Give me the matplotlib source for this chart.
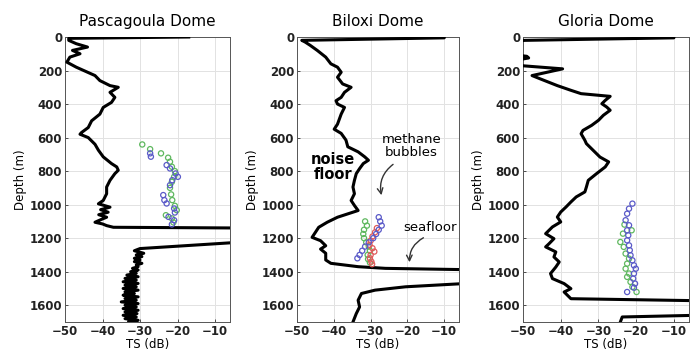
import numpy as np
import matplotlib
matplotlib.use('Agg')
import matplotlib.pyplot as plt

titles = ['Pascagoula Dome', 'Biloxi Dome', 'Gloria Dome']

# noise / echo profile (black line): depth (m) and TS (dB)
pas_depth = [0, 8, 20, 40, 60, 80, 100, 120, 150, 180, 200, 230, 260, 290, 300, 330, 360,
             390, 420, 460, 500, 540, 570, 580, 600, 640, 675, 715, 755, 775, 795, 815, 855,
             895, 935, 975, 995, 1015, 1030, 1045, 1060, 1075, 1090, 1105, 1115, 1125, 1135,
             1140, 1180, 1225, 1262, 1275, 1290, 1300, 1310, 1320, 1330, 1340, 1350, 1360,
             1370, 1380, 1390, 1400, 1410, 1420, 1430, 1440, 1450, 1460, 1470, 1480, 1490,
             1500, 1510, 1520, 1530, 1540, 1550, 1560, 1570, 1580, 1590, 1600, 1610, 1620,
             1630, 1640, 1650, 1660, 1670, 1680, 1690, 1700]
pas_ts = [-17, -49, -49, -47, -44, -48, -46, -48.7, -49.5, -47, -45, -42, -40.7, -38, -35.8,
          -38, -36.7, -37.6, -39.8, -40.7, -42.9, -43.8, -45.6, -46, -43.8, -42, -41.1, -39.8,
          -37.6, -36.2, -35.8, -36.7, -38, -38.9, -38.9, -39.8, -41.1, -38, -40.5, -38.5,
          -41, -38.9, -40.5, -42, -40, -38.9, -37.1, 2, 2, -4, -30, -31.5, -29, -31, -29.5,
          -31.5, -30, -31.5, -29.5, -31, -30.5, -32, -30.5, -32.5, -31, -33.5, -30.5, -34,
          -31, -34.5, -30.5, -34, -31, -34.5, -30.5, -34, -31.5, -34.5, -30.5, -34, -31,
          -35, -30.5, -34, -31, -34.5, -30.5, -34, -30.8, -34.5, -31, -34, -30.5, -33]

bil_depth = [0, 5, 20, 30, 50, 80, 120, 160, 180, 210, 240, 280, 300, 330, 360, 380, 400,
             420, 460, 490, 520, 550, 575, 615, 655, 685, 715, 735, 755, 785, 815, 855, 895,
             935, 975, 1005, 1035, 1055, 1075, 1105, 1135, 1165, 1195, 1215, 1245, 1265, 1290,
             1330, 1350, 1370, 1380, 1390, 1430, 1470, 1490, 1510, 1530, 1570, 1610, 1650, 1700]
bil_ts = [-10, -10, -48.7, -47.8, -46.4, -44.5, -42.2, -40.8, -39, -38, -39, -37.6, -35.3,
          -37.1, -38, -39.4, -39, -37.1, -38, -38.5, -39, -39.9, -38, -36.7, -36.2, -33.4,
          -31.6, -30.6, -32, -33, -33.9, -34.4, -34.8, -34.4, -35.3, -34.4, -33.4, -36.2, -39,
          -41.8, -44.1, -45, -45.9, -43.6, -42.2, -43.6, -42.2, -42.2, -40.8, -33.4, -26, 2, 2,
          -4, -20.5, -28.8, -32.5, -33.4, -33, -33.9, -34.8]

glo_depth = [0, 5, 20, 30, 100, 115, 125, 135, 170, 190, 230, 250, 290, 318, 338, 354, 378,
             398, 418, 437, 467, 497, 527, 557, 577, 616, 636, 676, 716, 745, 775, 815, 855,
             895, 924, 954, 984, 1014, 1044, 1074, 1103, 1133, 1173, 1203, 1233, 1252, 1282,
             1312, 1342, 1372, 1411, 1441, 1471, 1501, 1521, 1541, 1561, 1575, 1620, 1660,
             1670, 1700]
glo_ts = [-10, -10, -49.5, -55, -55, -49, -48.5, -51, -51, -39.5, -47.6, -45.4, -40.9, -37.3,
          -34.6, -26.9, -28.2, -29.1, -27.8, -26.9, -28.7, -30, -31.8, -34.1, -34.6, -33.6,
          -33.2, -31.4, -29.6, -27.3, -28.2, -30.5, -32.7, -33.2, -33.6, -35.9, -37.3, -38.6,
          -40, -40.9, -40, -42.2, -44, -41.8, -43.1, -44, -41.3, -41.8, -40.4, -41.3, -42.7,
          -42.2, -39.1, -37.3, -39.1, -38.2, -37.3, 2, 2, -4, -23.7, -24.2]

# bubble target strengths (circles)
pas_green_d = [641, 669, 694, 720, 744, 774, 800, 834, 864, 900, 939, 973, 1007, 1033, 1063,
               1082, 1106]
pas_green_ts = [-29.4, -27.3, -24.4, -22.5, -22, -21.5, -20.7, -20.9, -21.5, -22, -21.7,
                -21.4, -20.7, -20.2, -23.1, -21.5, -21.1]
pas_blue_d = [694, 714, 764, 784, 814, 834, 854, 884, 943, 973, 993, 1023, 1047, 1073, 1093,
              1118]
pas_blue_ts = [-27.3, -27.1, -22.9, -22, -20.5, -19.9, -21.4, -22, -23.8, -23.5, -22.9, -20.9,
               -20.7, -22.4, -20.9, -21.5]

bil_green_d = [1100, 1125, 1150, 1175, 1200, 1225, 1250, 1275, 1300, 1325, 1345]
bil_green_ts = [-31.5, -31, -31.8, -32, -31.8, -31.2, -30.5, -30.2, -30.8, -30.7, -30.2]
bil_red_d = [1140, 1165, 1190, 1215, 1240, 1260, 1280, 1300, 1320, 1340, 1355]
bil_red_ts = [-28.3, -28.8, -29.5, -30, -30.3, -29.5, -29, -30, -30.2, -29.8, -29.6]
bil_blue_d = [1075, 1100, 1125, 1150, 1175, 1200, 1225, 1250, 1275, 1300, 1320]
bil_blue_ts = [-27.8, -27.4, -27, -27.8, -28.5, -29.3, -30.5, -31.5, -32.3, -33, -33.6]

glo_green_d = [1119, 1153, 1173, 1223, 1252, 1292, 1322, 1352, 1382, 1411, 1431, 1461, 1491,
               1521]
glo_green_ts = [-23.1, -21.2, -23.5, -24.2, -23.3, -22.8, -21.9, -22.4, -22.8, -21.9, -22.4,
                -21.5, -21, -19.9]
glo_blue_d = [994, 1024, 1054, 1093, 1123, 1153, 1183, 1213, 1243, 1272, 1302, 1332, 1362,
              1382, 1411, 1441, 1471, 1495, 1521]
glo_blue_ts = [-21, -21.9, -22.4, -22.8, -21.9, -22.4, -22.1, -22.4, -21.9, -21.7, -21.5, -21,
               -20.6, -20.1, -20.6, -20.8, -20.3, -20.6, -22.4]

xticks = [-50, -40, -30, -20, -10]
yticks = [0, 200, 400, 600, 800, 1000, 1200, 1400, 1600]

c_green = '#5fb85f'
c_blue = '#5a5ac8'
c_red = '#e05a5a'

fig = plt.figure(figsize=(6.92, 3.51), dpi=100)
lefts = [65 / 692, 297 / 692, 523 / 692]
widths = [165 / 692, 162 / 692, 166 / 692]
axs = [fig.add_axes([lefts[i], 29 / 351, widths[i], 285 / 351]) for i in range(3)]

lines = [(pas_depth, pas_ts), (bil_depth, bil_ts), (glo_depth, glo_ts)]
dots = [
    [(pas_green_d, pas_green_ts, c_green), (pas_blue_d, pas_blue_ts, c_blue)],
    [(bil_green_d, bil_green_ts, c_green), (bil_red_d, bil_red_ts, c_red),
     (bil_blue_d, bil_blue_ts, c_blue)],
    [(glo_green_d, glo_green_ts, c_green), (glo_blue_d, glo_blue_ts, c_blue)],
]

for n, ax in enumerate(axs):
    d, ts = lines[n]
    ax.plot(ts, d, color='black', lw=2.2, zorder=3)
    for dd, tt, c in dots[n]:
        ax.scatter(tt, dd, s=14, facecolors='none', edgecolors=c, linewidths=0.9, zorder=4)
    ax.set_xlim(-50, -6)
    ax.set_ylim(1700, 0)
    ax.set_xticks(xticks)
    ax.set_yticks(yticks)
    ax.grid(color='#e2e2e2', lw=0.7, zorder=0)
    ax.set_axisbelow(True)
    ax.tick_params(direction='in', length=2.5, width=0.6, labelsize=8.5, pad=2,
                   colors='#333333', labelcolor='#222222')
    for lab in ax.get_xticklabels() + ax.get_yticklabels():
        lab.set_fontweight('bold')
    for sp in ax.spines.values():
        sp.set_color('#555555')
        sp.set_linewidth(0.7)
    ax.set_title(titles[n], fontsize=11, pad=8)
    ax.set_ylabel('Depth (m)', fontsize=8.5, labelpad=2)
    ax.set_xlabel('TS (dB)', fontsize=8.5, labelpad=0)

ax = axs[1]
ax.text(-40.3, 776, 'noise\nfloor', fontsize=10.5, fontweight='bold', ha='center',
        va='center', linespacing=0.95, zorder=5)
ax.text(-18.9, 650, 'methane\nbubbles', fontsize=9.5, ha='center', va='center',
        linespacing=1.0, zorder=5)
ax.text(-13.9, 1134, 'seafloor', fontsize=9.5, ha='center', va='center', zorder=5)
ax.annotate('', xy=(-26.9, 960), xytext=(-23.3, 750),
            arrowprops=dict(arrowstyle='->', lw=1, color='#333333',
                            connectionstyle='arc3,rad=0.35'))
ax.annotate('', xy=(-19.4, 1360), xytext=(-15, 1190),
            arrowprops=dict(arrowstyle='->', lw=1, color='#333333',
                            connectionstyle='arc3,rad=0.35'))

fig.savefig('out.png', dpi=100)
